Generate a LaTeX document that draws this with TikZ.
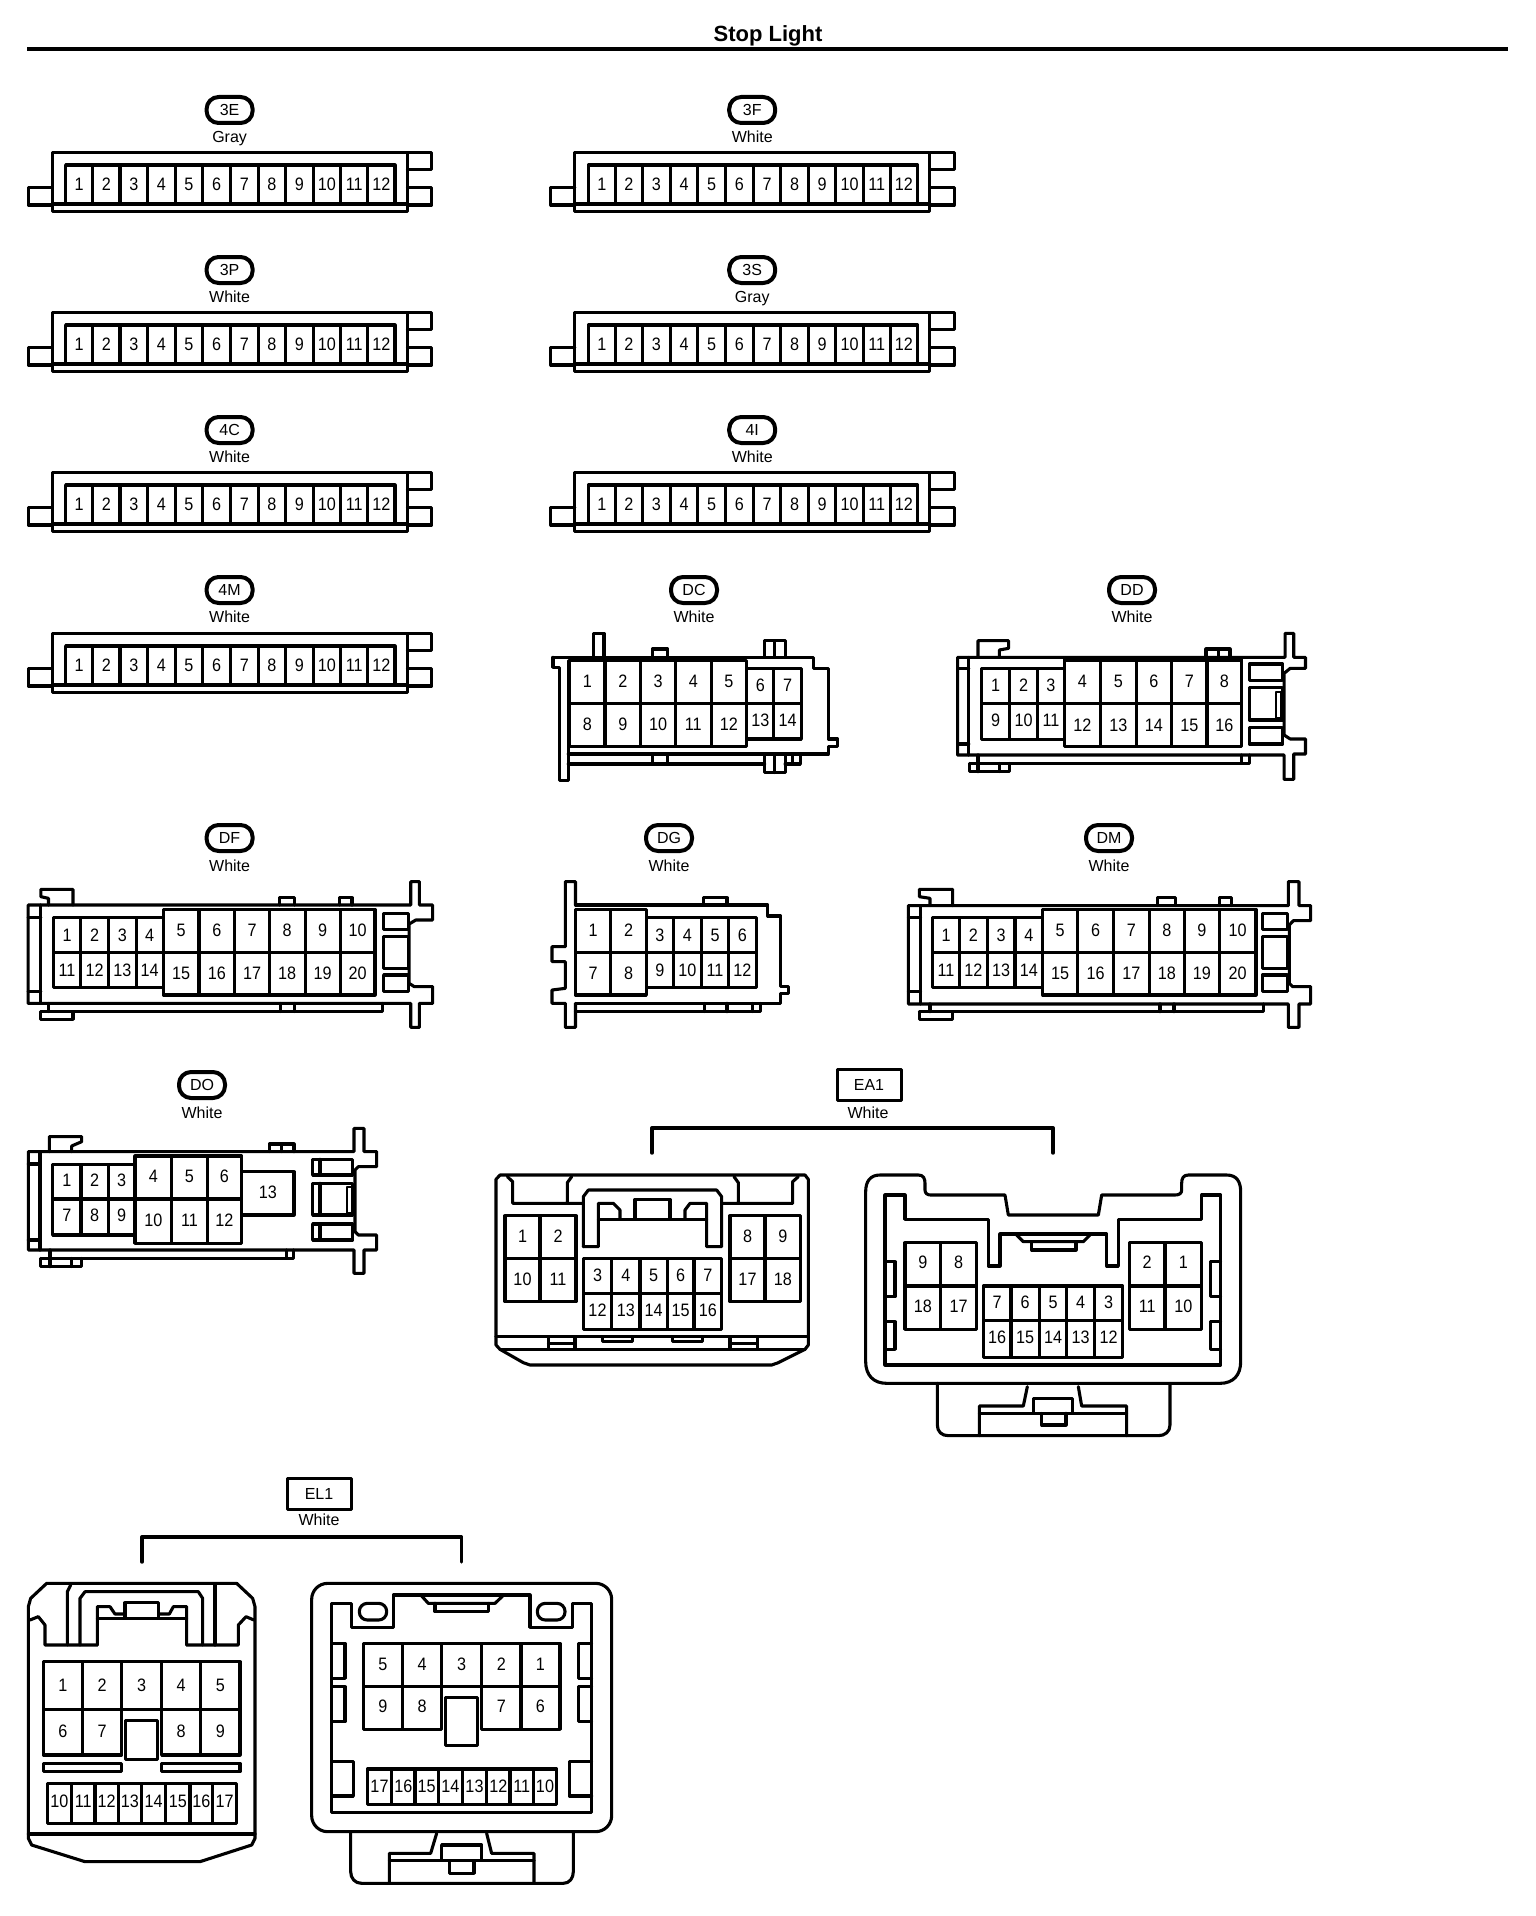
\documentclass[tikz,border=0pt]{standalone}
\usepackage{fontspec}
\setmainfont{Liberation Sans}
\newfontfamily\pinfont[FakeStretch=0.9]{Liberation Sans}
\tikzset{
  zt/.style={x=0.33333pt,y=-0.33333pt},
  zs/.style={x=0.5102pt,y=-0.33333pt},
  pinlabel/.style={inner sep=0pt,font=\pinfont\fontsize{18}{18}\selectfont},
  colourtext/.style={inner sep=0pt,text height=11.6pt,text depth=0pt,font=\fontsize{16}{16}\selectfont},
  tagoval/.style={draw,line width=4pt,rounded corners=12pt,minimum width=46pt,minimum height=26pt,inner sep=0pt,font=\fontsize{16}{16}\selectfont},
  tagbox/.style={draw,line width=3pt,minimum width=64pt,minimum height=31pt,inner sep=0pt,font=\fontsize{16}{16}\selectfont},
  bracketline/.style={line width=3.4pt},
}
\newcommand{\cellrow}[6]{% prefix, ytop, ybot, ylabel, x0, list of xnext/label
  \foreach \b/\l [remember=\b as \a (initially #5)] in {#6}{
    \draw (\a,#2) rectangle (\b,#3);
    \node[pinlabel] (#1-\l) at ({(\a+\b)/2},#4) {\l};
  }}
\newcommand{\tagline}[5]{% id, x, y of tag, y of colour, colour
  \node[tagoval] (tag#1) at (#2,#3) {#1};
  \node[colourtext] (col#1) at (#2,#4) {#5};}
\newcommand{\twelve}[3]{% id, dx, dy
  \begin{scope}[shift={(#2,#3)},zt]
    \draw (157,217) rectangle (1222,395);
    \draw (157,322) -- (85,322) -- (85,375) -- (157,375);
    \draw (157,372) -- (1222,372);
    \draw (1222,217) -- (1295,217) -- (1295,268) -- (1222,268);
    \draw (1222,322) -- (1295,322) -- (1295,375) -- (1222,375);
    \cellrow{#1}{255}{370}{313}{197}{278/1,360/2,443/3,526/4,608/5,692/6,775/7,857/8,940/9,1022/10,1103/11,1185/12}
  \end{scope}}
\begin{document}
\begin{tikzpicture}[x=1pt,y=-1pt,line width=3.1pt,line join=round,line cap=round]
\useasboundingbox (0,0) rectangle (1536,1916);
% title
\node[inner sep=0pt,font=\bfseries\fontsize{22}{22}\selectfont] (title) at (768,36) {Stop Light};
\coordinate (ruleL) at (27,49);
\coordinate (ruleR) at (1508,49);
\draw[line width=4.6pt,line cap=butt] (ruleL) -- (ruleR);
% 12 pin connectors
\tagline{3E}{229.6}{110}{137}{Gray}   \twelve{3E}{0}{80}
\tagline{3F}{752.2}{110}{137}{White}  \twelve{3F}{522.6}{80}
\tagline{3P}{229.6}{270}{297}{White}  \twelve{3P}{0}{240}
\tagline{3S}{752.2}{270}{297}{Gray}   \twelve{3S}{522.6}{240}
\tagline{4C}{229.6}{430}{457}{White}  \twelve{4C}{0}{400}
\tagline{4I}{752.2}{430}{457}{White}  \twelve{4I}{522.6}{400}
\tagline{4M}{229.6}{590}{617}{White}  \twelve{4M}{0}{561}
% DC
\tagline{DC}{694}{590}{617}{White}
\begin{scope}[shift={(530,570)},zs]
  \draw (125,262) -- (125,190) -- (145,190) -- (145,262);
  \draw (45,262) -- (555,262) -- (555,295) -- (585,295) -- (585,507) -- (603,507) -- (603,530) -- (585,530) -- (585,552) -- (75,552);
  \draw (45,262) -- (45,292) -- (58,292) -- (58,632) -- (75,632) -- (75,272);
  \draw (75,582) -- (460,582);
  \draw (240,262) -- (240,237) -- (270,237) -- (270,262);
  \draw (240,552) -- (240,582) (270,552) -- (270,582);
  \draw (460,262) -- (460,212) -- (500,212) -- (500,262) (480,212) -- (480,262);
  \draw (460,552) -- (460,608) -- (500,608) -- (500,552) (480,552) -- (480,608);
  \draw (500,582) -- (530,582) -- (530,552) (515,552) -- (515,582);
  \cellrow{DC}{272}{400}{335}{78}{147/1,217/2,285/3,355/4,425/5}
  \cellrow{DC}{400}{530}{462}{78}{147/8,217/9,285/10,355/11,425/12}
  \cellrow{DC}{295}{400}{347}{425}{478/6,532/7}
  \cellrow{DC}{400}{507}{450}{425}{478/13,532/14}
\end{scope}
% DD
\tagline{DD}{1132}{590}{617}{White}
\begin{scope}[shift={(530,570)},zs]
  \draw (838,262) -- (1480,262) -- (1480,190) -- (1497,190) -- (1497,262) -- (1520,262) -- (1520,295) -- (1490,295) -- (1478,310) -- (1478,495) -- (1490,507) -- (1520,507) -- (1520,552) -- (1497,552) -- (1497,628) -- (1478,628) -- (1478,555) -- (838,555) -- cycle;
  \draw (860,262) -- (860,555) (838,295) -- (860,295) (838,522) -- (860,522);
  \draw (878,262) -- (878,212) -- (938,212) -- (938,235) -- (920,240) -- (920,262);
  \draw (1325,262) -- (1325,237) -- (1372,237) -- (1372,262) (1350,237) -- (1350,262);
  \draw (878,555) -- (878,580) -- (1410,580) -- (1410,555) (1395,555) -- (1395,580);
  \draw (862,580) -- (862,605) -- (940,605) -- (940,580) (862,580) -- (878,580) (878,580) -- (878,605) (920,580) -- (920,605);
  \cellrow{DD}{295}{400}{345}{885}{940/1,995/2,1047/3}
  \cellrow{DD}{400}{508}{450}{885}{940/9,995/10,1047/11}
  \cellrow{DD}{270}{400}{335}{1047}{1118/4,1188/5,1258/6,1327/7,1395/8}
  \cellrow{DD}{400}{530}{465}{1047}{1118/12,1188/13,1258/14,1327/15,1395/16}
  \draw (1410,282) rectangle (1475,332);
  \draw (1410,352) rectangle (1475,450);
  \draw (1410,472) rectangle (1475,522);
  \draw[line width=1.6pt] (1462,366) rectangle (1472,444);
\end{scope}
% DF
\tagline{DF}{229.6}{838}{866}{White}
\begin{scope}[shift={(0,820)},zs]
  \draw (55,255) -- (805,255) -- (805,185) -- (822,185) -- (822,255) -- (848,255) -- (848,300) -- (815,300) -- (802,312) -- (802,490) -- (812,500) -- (848,500) -- (848,550) -- (822,550) -- (822,622) -- (805,622) -- (805,550) -- (55,550) -- cycle;
  \draw (80,255) -- (80,550) (55,292) -- (80,292) (55,515) -- (80,515);
  \draw (95,255) -- (95,235) -- (80,230) -- (80,208) -- (143,208) -- (143,255);
  \draw (80,575) -- (80,598) -- (143,598) -- (143,575);
  \draw (80,575) -- (750,575) -- (750,550) (95,550) -- (95,575);
  \draw (548,255) -- (548,233) -- (578,233) -- (578,255);
  \draw (665,255) -- (665,233) -- (690,233) -- (690,255);
  \draw (550,550) -- (550,575) (578,550) -- (578,575);
  \cellrow{DF}{292}{397}{345}{105}{158/1,213/2,267/3,320/4}
  \cellrow{DF}{397}{503}{450}{105}{158/11,213/12,267/13,320/14}
  \cellrow{DF}{268}{397}{330}{320}{390/5,460/6,528/7,598/8,667/9,735/10}
  \cellrow{DF}{397}{525}{460}{320}{390/15,460/16,528/17,598/18,667/19,735/20}
  \draw (752,280) rectangle (800,328);
  \draw (752,350) rectangle (800,445);
  \draw (752,465) rectangle (800,515);
\end{scope}
% DG
\tagline{DG}{669}{838}{866}{White}
\begin{scope}[shift={(0,820)},zs]
  \draw (1128,255) -- (1128,185) -- (1108,185) -- (1108,380) -- (1082,380) -- (1082,425) -- (1108,425) -- (1108,505) -- (1082,510) -- (1082,550) -- (1108,550) -- (1108,622) -- (1128,622) -- (1128,550);
  \draw (1128,255) -- (1505,255) -- (1505,288) -- (1530,288) -- (1530,500) -- (1545,500) -- (1545,520) -- (1530,520) -- (1530,550) -- (1128,550);
  \draw (1378,255) -- (1378,233) -- (1425,233) -- (1425,255);
  \draw (1128,575) -- (1490,575) -- (1490,550) (1380,550) -- (1380,575) (1425,550) -- (1425,575) (1475,550) -- (1475,575);
  \cellrow{DG}{268}{397}{330}{1128}{1197/1,1267/2}
  \cellrow{DG}{397}{525}{460}{1128}{1197/7,1267/8}
  \cellrow{DG}{292}{397}{345}{1267}{1320/3,1375/4,1428/5,1482/6}
  \cellrow{DG}{397}{503}{450}{1267}{1320/9,1375/10,1428/11,1482/12}
\end{scope}
% DM
\tagline{DM}{1109}{838}{866}{White}
\begin{scope}[shift={(900,820)},zt]
  \draw (25,257) -- (1165,257) -- (1165,185) -- (1197,185) -- (1197,257) -- (1232,257) -- (1232,302) -- (1180,302) -- (1168,315) -- (1168,490) -- (1178,500) -- (1232,500) -- (1232,552) -- (1197,552) -- (1197,622) -- (1165,622) -- (1165,552) -- (25,552) -- cycle;
  \draw (62,257) -- (62,552) (25,292) -- (62,292) (25,515) -- (62,515);
  \draw (90,257) -- (90,235) -- (58,230) -- (58,208) -- (158,208) -- (158,257);
  \draw (58,575) -- (58,598) -- (158,598) -- (158,575);
  \draw (58,575) -- (1090,575) -- (1090,552) (90,552) -- (90,575);
  \draw (772,257) -- (772,233) -- (827,233) -- (827,257);
  \draw (958,257) -- (958,233) -- (995,233) -- (995,257);
  \draw (780,552) -- (780,575) (822,552) -- (822,575);
  \cellrow{DM}{292}{397}{345}{98}{178/1,262/2,345/3,428/4}
  \cellrow{DM}{397}{503}{450}{98}{178/11,262/12,345/13,428/14}
  \cellrow{DM}{268}{397}{330}{428}{533/5,640/6,748/7,853/8,958/9,1068/10}
  \cellrow{DM}{397}{525}{460}{428}{533/15,640/16,748/17,853/18,958/19,1068/20}
  \draw (1087,280) rectangle (1162,328);
  \draw (1087,350) rectangle (1162,445);
  \draw (1087,465) rectangle (1162,515);
\end{scope}
% DO
\tagline{DO}{202}{1085}{1113}{White}
\begin{scope}[shift={(0,1070)},zt]
  \draw (85,245) -- (1062,245) -- (1062,175) -- (1092,175) -- (1092,245) -- (1130,245) -- (1130,290) -- (1075,290) -- (1065,300) -- (1065,485) -- (1075,495) -- (1130,495) -- (1130,540) -- (1092,540) -- (1092,610) -- (1062,610) -- (1062,540) -- (85,540) -- cycle;
  \draw (120,245) -- (120,540) (85,282) -- (120,282) (85,510) -- (120,510);
  \draw (148,245) -- (148,200) -- (245,200) -- (245,215) -- (215,228) -- (215,245);
  \draw (150,540) -- (150,565) -- (880,565) -- (880,540) (860,540) -- (860,565);
  \draw (122,565) -- (122,590) -- (245,590) -- (245,565) (122,565) -- (150,565) (150,565) -- (150,590) (215,565) -- (215,590);
  \draw (808,245) -- (808,222) -- (882,222) -- (882,245) (845,222) -- (845,245);
  \cellrow{DO}{283}{387}{332}{158}{243/1,325/2,405/3}
  \cellrow{DO}{387}{495}{437}{158}{243/7,325/8,405/9}
  \cellrow{DO}{258}{387}{320}{405}{515/4,622/5,725/6}
  \cellrow{DO}{387}{520}{452}{405}{515/10,622/11,725/12}
  \cellrow{DO}{305}{435}{368}{725}{882/13}
  \draw (938,268) rectangle (1058,315) (960,268) -- (960,315);
  \draw (938,340) rectangle (1058,435) (960,340) -- (960,435);
  \draw[line width=2pt] (1040,352) rectangle (1056,428);
  \draw (938,462) rectangle (1058,510) (960,462) -- (960,510);
\end{scope}
% EA1
\node[tagbox] (tagEA1) at (869,1085) {EA1};
\node[colourtext] (colEA1) at (868,1113) {White};
\coordinate (ea1L) at (652,1153);
\coordinate (ea1R) at (1053,1153);
\draw[bracketline] (ea1L) |- (ea1R |- 0,1128) -- (ea1R);
\begin{scope}[shift={(480,1060)},zt]
  \draw (60,345) -- (975,345) -- (985,358) -- (985,855) -- (975,868) -- (895,908) -- (875,915) -- (150,915) -- (130,908) -- (60,868) -- (48,855) -- (48,358) -- cycle;
  \draw (48,830) -- (985,830) (60,868) -- (975,868);
  \draw (82,350) -- (98,365) -- (98,430) -- (310,430) (262,430) -- (262,368) -- (275,350);
  \draw (955,350) -- (938,365) -- (938,430) -- (725,430) (775,430) -- (775,368) -- (762,350);
  \draw (310,560) -- (310,410) -- (325,390) -- (710,390) -- (725,410) -- (725,560) -- (680,560) -- (680,430) -- (630,430) -- (615,450) -- (615,478);
  \draw (310,560) -- (355,560) -- (355,430) -- (400,430) -- (420,450) -- (420,478);
  \draw (355,478) -- (680,478);
  \draw (465,478) -- (465,418) -- (570,418) -- (570,478);
  \draw (205,830) -- (205,868) (285,830) -- (285,868) (205,850) -- (285,850);
  \draw (750,830) -- (750,868) (832,830) -- (832,868) (750,850) -- (832,850);
  \draw (368,830) -- (368,845) -- (458,845) -- (458,830);
  \draw (578,830) -- (578,845) -- (668,845) -- (668,830);
  \cellrow{EA1a}{467}{595}{528}{75}{180/1,288/2}
  \cellrow{EA1a}{595}{725}{658}{75}{180/10,288/11}
  \cellrow{EA1a}{467}{595}{528}{750}{855/8,962/9}
  \cellrow{EA1a}{595}{725}{658}{750}{855/17,962/18}
  \cellrow{EA1a}{595}{700}{645}{310}{395/3,480/4,562/5,642/6,725/7}
  \cellrow{EA1a}{700}{808}{750}{310}{395/12,480/13,562/14,642/15,725/16}
\end{scope}
\begin{scope}[shift={(850,1060)},zt]
  \draw (47,395) .. controls (47,365) and (60,345) .. (90,345) -- (205,345) .. controls (220,345) and (225,355) .. (225,370) -- (225,390) .. controls (225,400) and (232,405) .. (242,405) -- (465,405) -- (475,465) -- (745,465) -- (755,405) -- (975,405) .. controls (988,405) and (995,400) .. (995,390) -- (995,370) .. controls (995,355) and (1000,345) .. (1015,345) -- (1130,345) .. controls (1160,345) and (1172,365) .. (1172,395) -- (1172,905) .. controls (1172,945) and (1150,970) .. (1110,970) -- (110,970) .. controls (70,970) and (47,945) .. (47,905) -- cycle;
  \draw (105,405) -- (165,405) -- (165,478) -- (415,478) -- (415,618) -- (450,618) -- (450,522) -- (770,522) -- (770,618) -- (805,618) -- (805,478) -- (1055,478) -- (1055,405) -- (1112,405) -- (1112,915) -- (105,915) -- cycle;
  \draw (500,525) -- (520,545) -- (700,545) -- (720,525);
  \draw (545,545) -- (545,570) -- (678,570) -- (678,545);
  \draw (105,605) -- (135,605) -- (135,710) -- (105,710);
  \draw (105,785) -- (135,785) -- (135,868) -- (105,868);
  \draw (1112,605) -- (1082,605) -- (1082,710) -- (1112,710);
  \draw (1112,785) -- (1082,785) -- (1082,868) -- (1112,868);
  \cellrow{EA1b}{548}{678}{608}{165}{272/9,380/8}
  \cellrow{EA1b}{678}{808}{740}{165}{272/18,380/17}
  \cellrow{EA1b}{548}{678}{608}{838}{945/2,1055/1}
  \cellrow{EA1b}{678}{808}{740}{838}{945/11,1055/10}
  \cellrow{EA1b}{678}{782}{728}{400}{483/7,568/6,650/5,733/4,818/3}
  \cellrow{EA1b}{782}{892}{833}{400}{483/16,568/15,650/14,733/13,818/12}
  \draw (262,970) -- (262,1095) .. controls (262,1115) and (275,1127) .. (295,1127) -- (925,1127) .. controls (945,1127) and (960,1115) .. (960,1095) -- (960,970);
  \draw (388,1127) -- (388,1038) -- (520,1038) -- (532,980);
  \draw (830,1127) -- (830,1038) -- (695,1038) -- (685,980);
  \draw (388,1060) -- (830,1060);
  \draw (550,1058) -- (550,1015) -- (668,1015) -- (668,1058);
  \draw (575,1060) -- (575,1095) -- (648,1095) -- (648,1060);
\end{scope}
% EL1
\node[tagbox] (tagEL1) at (319,1494) {EL1};
\node[colourtext] (colEL1) at (319,1520) {White};
\coordinate (el1L) at (142,1562);
\coordinate (el1R) at (461.5,1562);
\draw[bracketline] (el1L) |- (el1R |- 0,1537) -- (el1R);
\begin{scope}[shift={(10,1470)},zt]
  \draw (55,1105) -- (55,410) -- (62,385) -- (110,340) -- (680,340) -- (728,385) -- (735,410) -- (735,1105) -- (725,1125) -- (570,1175) -- (225,1175) -- (65,1125) -- cycle;
  \draw (55,1092) -- (735,1092);
  \draw (60,450) -- (85,440) -- (105,465) -- (105,525) -- (262,525);
  \draw (732,450) -- (708,440) -- (685,465) -- (685,525) -- (530,525);
  \draw (172,525) -- (172,365) -- (182,345);
  \draw (615,525) -- (615,345);
  \draw (210,525) -- (210,385) -- (225,365) -- (565,365) -- (578,385) -- (578,525);
  \draw (262,525) -- (262,410) -- (300,410) -- (315,432) -- (345,432);
  \draw (530,525) -- (530,410) -- (490,410) -- (478,432) -- (448,432);
  \draw (345,445) -- (345,398) -- (445,398) -- (445,445);
  \draw (262,445) -- (530,445);
  \cellrow{EL1a}{575}{718}{645}{100}{218/1,335/2,455/3,572/4,690/5}
  \cellrow{EL1a}{718}{855}{785}{100}{218/6,335/7}
  \cellrow{EL1a}{718}{855}{785}{455}{572/8,690/9}
  \draw (347,752) rectangle (443,868);
  \draw (100,880) rectangle (335,905);
  \draw (455,880) rectangle (690,905);
  \cellrow{EL1a}{940}{1060}{995}{112}{185/10,255/11,325/12,395/13,467/14,540/15,608/16,680/17}
\end{scope}
\begin{scope}[shift={(290,1570)},zt]
  \draw[rounded corners=16pt] (65,40) rectangle (965,785);
  \draw (125,100) -- (185,100) -- (185,172) -- (310,172) -- (310,75) -- (720,75) -- (720,172) -- (848,172) -- (848,100) -- (905,100) -- (905,727) -- (125,727) -- cycle;
  \draw[rounded corners=8pt] (208,100) rectangle (290,150);
  \draw[rounded corners=8pt] (742,100) rectangle (825,150);
  \draw (395,78) -- (415,100) -- (615,100) -- (638,78);
  \draw (435,100) -- (435,125) -- (595,125) -- (595,100);
  \draw (125,220) -- (165,220) -- (165,325) -- (125,325);
  \draw (125,350) -- (165,350) -- (165,455) -- (125,455);
  \draw (905,220) -- (865,220) -- (865,325) -- (905,325);
  \draw (905,350) -- (865,350) -- (865,455) -- (905,455);
  \draw (125,575) -- (190,575) -- (190,678) -- (125,678);
  \draw (905,575) -- (838,575) -- (838,678) -- (905,678);
  \cellrow{EL1b}{220}{350}{283}{220}{338/5,455/4,575/3,693/2,810/1}
  \cellrow{EL1b}{350}{478}{410}{220}{338/9,455/8}
  \cellrow{EL1b}{350}{478}{410}{575}{693/7,810/6}
  \draw (466,382) rectangle (563,527);
  \cellrow{EL1b}{597}{703}{650}{232}{305/17,375/16,445/15,517/14,590/13,660/12,730/11,800/10}
  \draw (182,785) -- (182,905) .. controls (182,925) and (195,940) .. (215,940) -- (820,940) .. controls (838,940) and (850,925) .. (850,905) -- (850,785);
  \draw (298,940) -- (298,850) -- (422,850) -- (440,790);
  \draw (732,940) -- (732,850) -- (605,850) -- (590,790);
  \draw (298,872) -- (732,872);
  \draw (455,870) -- (455,825) -- (575,825) -- (575,870);
  \draw (478,872) -- (478,910) -- (552,910) -- (552,872);
\end{scope}
\end{tikzpicture}
\end{document}
